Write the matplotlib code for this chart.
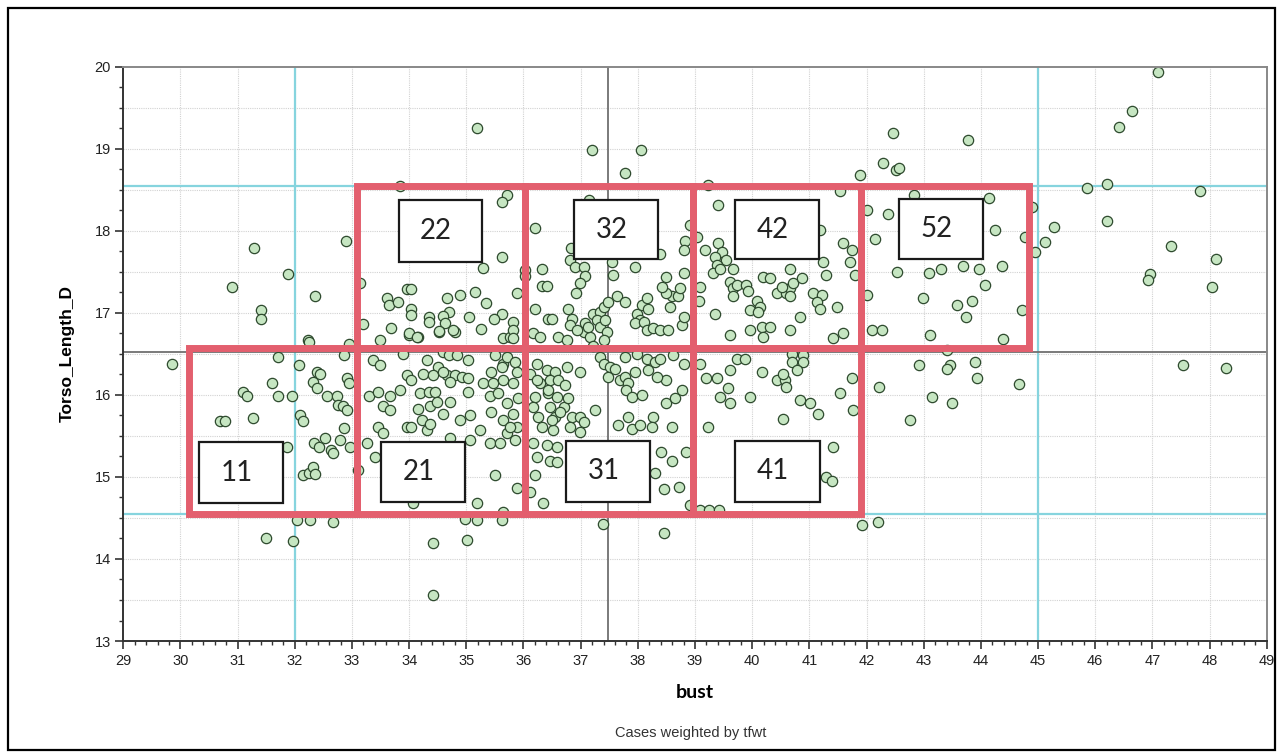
import matplotlib.pyplot as plt
from matplotlib.patches import Rectangle
import numpy as np

# точки (bust, Torso_Length_D), сгруппированы по областям графика
pts_left = [(29.85, 16.38), (31.29, 17.79), (30.90, 17.32), (31.41, 17.04), (31.41, 16.93), (31.88, 17.47),
            (32.35, 17.20), (32.90, 17.87), (32.23, 16.67), (31.49, 14.25), (31.96, 14.22), (32.03, 14.48),
            (32.27, 14.48), (32.67, 14.45)]
pts_11 = [(31.71, 16.46), (31.60, 16.15), (31.09, 16.04), (31.17, 15.99), (31.71, 15.99), (31.95, 15.99),
          (30.69, 15.68), (30.78, 15.68), (31.26, 15.72), (32.08, 16.36), (32.24, 16.65), (32.38, 16.28),
          (32.44, 16.26), (32.32, 16.16), (32.38, 16.08), (32.56, 15.99), (32.73, 15.99), (32.76, 15.88),
          (32.85, 15.86), (32.86, 16.48), (32.91, 16.20), (32.94, 16.15), (32.91, 15.81), (32.09, 15.75),
          (32.15, 15.68), (32.86, 15.60), (32.79, 15.45), (32.52, 15.48), (32.34, 15.41), (32.43, 15.37),
          (32.64, 15.33), (32.67, 15.29), (32.97, 15.37), (31.87, 15.37), (32.15, 15.02), (32.24, 15.05),
          (32.31, 15.12), (32.35, 15.04), (33.11, 15.08)]
pts_21 = [(32.95, 16.62), (33.49, 16.67), (34.00, 16.73), (34.16, 16.71), (34.53, 16.77), (34.80, 16.77),
          (35.65, 16.69), (35.76, 16.71), (33.37, 16.42), (33.49, 16.36), (33.90, 16.50), (34.31, 16.42),
          (34.60, 16.52), (34.69, 16.48), (34.83, 16.48), (35.03, 16.42), (35.50, 16.48), (35.65, 16.38),
          (34.51, 16.34), (34.25, 16.26), (33.96, 16.24), (34.04, 16.18), (34.42, 16.24), (34.66, 16.24),
          (34.80, 16.24), (34.92, 16.22), (35.03, 16.20), (34.60, 16.28), (34.71, 16.16), (35.30, 16.14),
          (35.47, 16.14), (35.44, 16.28), (33.29, 15.99), (33.46, 16.04), (33.66, 15.99), (33.84, 16.06),
          (33.55, 15.87), (33.66, 15.81), (34.19, 16.02), (34.34, 16.04), (34.45, 16.04), (34.16, 15.83),
          (34.36, 15.87), (34.48, 15.91), (34.71, 15.91), (34.60, 15.77), (35.03, 16.04), (35.41, 15.99),
          (35.56, 16.02), (35.44, 15.79), (34.89, 15.69), (35.06, 15.75), (33.96, 15.61), (34.04, 15.61),
          (34.22, 15.69), (34.31, 15.57), (34.36, 15.65), (33.46, 15.61), (33.55, 15.53), (33.26, 15.41),
          (33.40, 15.24), (34.71, 15.47), (35.06, 15.45), (35.24, 15.57), (35.41, 15.41), (35.59, 15.41),
          (35.71, 15.53), (35.88, 15.61), (35.50, 15.02), (35.88, 14.86), (35.18, 14.68), (35.65, 14.57),
          (34.07, 14.68), (35.71, 16.46), (35.85, 16.40), (35.62, 16.34), (35.88, 16.28), (35.65, 16.18),
          (35.82, 16.14), (35.91, 15.96), (35.71, 15.90), (35.82, 15.77), (35.65, 15.69), (35.77, 15.61),
          (35.85, 15.45)]
pts_below = [(34.98, 14.49), (35.18, 14.47), (35.62, 14.47), (34.41, 14.20), (35.02, 14.23), (34.41, 13.56),
             (37.39, 14.43), (38.46, 14.32), (41.92, 14.42), (42.20, 14.45)]
pts_22 = [(33.84, 18.55), (33.14, 17.36), (33.19, 16.86), (33.96, 17.29), (34.04, 17.29), (33.61, 17.18),
          (33.65, 17.09), (33.81, 17.13), (34.03, 17.05), (34.03, 16.97), (33.68, 16.82), (34.35, 16.95),
          (34.35, 16.89), (34.67, 17.18), (34.70, 17.01), (34.60, 16.96), (34.63, 16.87), (34.52, 16.78),
          (34.77, 16.79), (33.99, 16.75), (34.14, 16.71), (34.89, 17.22), (35.71, 18.43), (35.62, 18.35),
          (35.62, 17.68), (35.88, 17.24), (35.62, 16.99), (35.82, 16.89), (35.82, 16.79), (35.82, 16.69),
          (35.15, 17.25), (35.35, 17.12), (35.48, 16.92), (35.25, 16.80), (35.05, 16.95), (35.30, 17.55)]
pts_top = [(35.18, 19.25), (37.20, 18.98), (38.06, 18.98), (37.78, 18.71), (42.28, 18.83), (41.89, 18.68),
           (42.52, 18.74), (39.22, 18.56), (47.09, 19.94), (46.65, 19.46), (46.42, 19.27), (42.47, 19.19),
           (43.78, 19.11), (42.56, 18.76)]
pts_32 = [(36.21, 18.03), (36.83, 17.79), (37.15, 18.37), (36.81, 17.64), (36.90, 17.56), (37.05, 17.56),
          (37.08, 17.45), (36.99, 17.36), (36.92, 17.24), (36.32, 17.53), (36.32, 17.33), (36.41, 17.33),
          (36.03, 17.52), (36.03, 17.45), (36.20, 17.05), (36.43, 16.93), (36.49, 16.93), (36.78, 17.05),
          (36.84, 16.93), (36.81, 16.85), (36.17, 16.75), (36.29, 16.71), (36.61, 16.71), (36.76, 16.67),
          (37.05, 16.77), (37.16, 16.71), (37.22, 16.99), (37.34, 17.01), (37.40, 17.07), (37.48, 17.13),
          (37.28, 16.91), (37.34, 16.83), (37.43, 16.91), (37.46, 16.77), (37.40, 16.67), (37.08, 16.87),
          (37.13, 16.83), (36.93, 16.79), (37.22, 16.59), (37.63, 17.20), (37.78, 17.13), (37.57, 17.46),
          (37.95, 17.56), (37.54, 17.62), (37.98, 16.99), (38.07, 17.09), (38.16, 17.18), (38.18, 17.05),
          (38.04, 16.91), (37.95, 16.87), (38.10, 16.89), (38.16, 16.79), (38.27, 16.81), (38.39, 16.79),
          (38.53, 16.79), (38.77, 16.85), (38.80, 16.95), (38.56, 17.07), (38.59, 17.20), (38.71, 17.20),
          (38.50, 17.24), (38.50, 17.44), (38.43, 17.32), (38.80, 17.48), (38.74, 17.30), (38.83, 17.87),
          (38.91, 18.07), (38.80, 17.76), (38.39, 17.72)]
pts_42 = [(39.41, 18.31), (39.03, 17.93), (39.17, 17.76), (39.41, 17.85), (39.47, 17.74), (39.35, 17.68),
          (39.55, 17.64), (39.38, 17.58), (39.32, 17.48), (39.44, 17.54), (39.67, 17.54), (39.61, 17.38),
          (39.67, 17.30), (39.73, 17.34), (39.90, 17.34), (39.93, 17.26), (40.08, 17.15), (40.14, 17.07),
          (39.96, 17.03), (40.11, 17.01), (39.67, 17.20), (39.35, 16.99), (39.09, 17.32), (39.07, 17.15),
          (39.61, 16.73), (39.96, 16.79), (40.17, 16.83), (40.31, 16.83), (40.19, 16.71), (40.19, 17.44),
          (40.31, 17.42), (40.43, 17.24), (40.60, 17.24), (40.66, 17.30), (40.72, 17.36), (40.52, 17.32),
          (40.66, 17.20), (40.87, 17.42), (40.66, 17.54), (41.07, 17.24), (41.22, 17.22), (41.13, 17.13),
          (41.19, 17.05), (41.48, 17.07), (40.84, 16.95), (40.66, 16.79), (41.42, 16.69), (41.59, 16.75),
          (41.59, 17.85), (41.74, 17.76), (41.71, 17.62), (41.24, 17.62), (41.30, 17.46), (41.80, 17.46),
          (41.54, 18.48), (41.19, 18.01)]
pts_52 = [(42.00, 18.25), (42.38, 18.21), (42.15, 17.90), (42.00, 17.22), (42.53, 17.50), (42.09, 16.79),
          (42.27, 16.79), (42.83, 18.44), (44.14, 18.40), (44.24, 18.01), (44.89, 18.29), (44.77, 17.93),
          (43.10, 17.49), (43.30, 17.53), (43.69, 17.57), (43.97, 17.53), (44.37, 17.57), (44.08, 17.34),
          (42.99, 17.18), (43.58, 17.10), (43.85, 17.15), (43.74, 16.95), (44.72, 17.03), (43.11, 16.73),
          (44.38, 16.68), (43.41, 16.55)]
pts_right = [(45.86, 18.52), (46.21, 18.57), (47.83, 18.48), (44.94, 17.74), (45.12, 17.86), (45.28, 18.05),
             (46.21, 18.12), (47.32, 17.82), (48.11, 17.66), (46.96, 17.47), (46.93, 17.40), (48.04, 17.31),
             (42.92, 16.36), (43.46, 16.36), (43.41, 16.32), (43.90, 16.40), (43.93, 16.21), (44.66, 16.13),
             (43.15, 15.98), (43.50, 15.90), (42.76, 15.69), (47.53, 16.37), (48.28, 16.33), (42.21, 16.09)]
pts_31 = [(36.23, 16.38), (36.41, 16.30), (36.55, 16.28), (36.76, 16.34), (36.99, 16.28), (36.29, 16.14),
          (36.46, 16.18), (36.61, 16.18), (36.73, 16.12), (36.20, 15.98), (36.43, 16.02), (36.46, 15.85),
          (36.70, 15.85), (36.78, 15.96), (36.26, 15.73), (36.55, 15.73), (36.84, 15.73), (36.99, 15.73),
          (36.32, 15.61), (36.52, 15.57), (36.81, 15.61), (36.99, 15.55), (37.25, 15.81), (37.34, 16.46),
          (37.40, 16.38), (37.51, 16.34), (37.48, 16.22), (37.60, 16.32), (37.69, 16.18), (37.78, 16.22),
          (37.83, 16.14), (37.95, 16.28), (37.78, 16.46), (37.98, 16.50), (38.16, 16.44), (38.30, 16.40),
          (38.18, 16.30), (38.39, 16.44), (38.62, 16.48), (38.80, 16.38), (38.50, 16.18), (38.33, 16.22),
          (37.80, 16.06), (37.89, 15.98), (38.07, 16.00), (38.50, 15.90), (38.65, 15.96), (38.77, 16.06),
          (37.66, 15.63), (37.83, 15.73), (37.89, 15.59), (38.04, 15.63), (38.27, 15.73), (38.24, 15.61),
          (38.59, 15.61), (37.05, 15.67), (36.11, 16.26), (36.23, 16.18), (36.17, 15.85), (36.43, 16.06),
          (36.58, 15.98), (36.49, 15.69), (36.64, 15.79), (36.17, 15.41), (36.41, 15.39), (36.58, 15.37),
          (36.23, 15.24), (36.46, 15.20), (36.58, 15.18), (36.20, 15.02), (36.11, 14.82), (36.35, 14.68),
          (38.60, 15.20), (38.30, 15.05), (38.85, 15.30), (38.40, 15.30), (38.72, 14.88), (38.45, 14.85),
          (38.92, 14.66)]
pts_41 = [(39.09, 16.38), (39.20, 16.20), (39.38, 16.20), (39.61, 16.30), (39.73, 16.44), (39.87, 16.44),
          (39.44, 15.98), (39.58, 16.08), (39.61, 15.90), (39.96, 15.98), (40.17, 16.28), (40.43, 16.18),
          (40.57, 16.18), (40.54, 16.26), (40.60, 16.10), (40.69, 16.50), (40.69, 16.40), (40.89, 16.48),
          (40.89, 16.40), (40.78, 16.30), (40.84, 15.94), (41.01, 15.90), (41.16, 15.77), (41.54, 16.02),
          (41.74, 16.20), (41.77, 15.81), (40.54, 15.70), (39.23, 15.61), (41.42, 15.37), (39.08, 14.60),
          (39.25, 14.60), (39.42, 14.60), (41.30, 15.00), (41.40, 14.95)]

# красные прямоугольники: (x0, x1, y0, y1)
cells = [(30.15, 33.08, 14.55, 16.57), (33.08, 36.03, 14.55, 16.57), (36.03, 38.97, 14.55, 16.57),
         (38.97, 41.90, 14.55, 16.57), (33.08, 36.03, 16.57, 18.55), (36.03, 38.97, 16.57, 18.55),
         (38.97, 41.90, 16.57, 18.55), (41.90, 44.85, 16.57, 18.55)]
# подписи ячеек: (текст, x0, x1, y0, y1)
labels = [('11', 30.33, 31.79, 14.68, 15.42), ('21', 33.51, 34.98, 14.69, 15.43),
          ('31', 36.74, 38.22, 14.70, 15.44), ('41', 39.70, 41.19, 14.70, 15.44),
          ('22', 33.82, 35.28, 17.62, 18.37), ('32', 36.88, 38.36, 17.65, 18.38),
          ('42', 39.70, 41.17, 17.65, 18.38), ('52', 42.57, 44.03, 17.66, 18.39)]

cyan_x = [32, 45]
cyan_y = [14.55, 18.55]
mean_x = 37.47
mean_y = 16.52

all_pts = (pts_left + pts_11 + pts_21 + pts_below + pts_22 + pts_top + pts_32 + pts_42 + pts_52
           + pts_right + pts_31 + pts_41)
bust = np.array([p[0] for p in all_pts])
torso = np.array([p[1] for p in all_pts])

fig = plt.figure(figsize=(12.83, 7.56), dpi=100)
ax = fig.add_axes([0.0961, 0.1521, 0.8912, 0.7597])

# сетка
for v in np.arange(30, 49, 1):
    ax.axvline(v, color='#d2d2d2', lw=0.8, ls=(0, (1, 1)), zorder=0)
for v in np.arange(13.5, 20, 0.5):
    ax.axhline(v, color='#d2d2d2', lw=0.8, ls=(0, (1, 1)), zorder=0)

for v in cyan_x:
    ax.axvline(v, color='#86d4de', lw=1.6, zorder=1)
for v in cyan_y:
    ax.axhline(v, color='#86d4de', lw=1.6, zorder=1)
ax.axvline(mean_x, color='#707070', lw=1.3, zorder=1)
ax.axhline(mean_y, color='#707070', lw=1.3, zorder=1)

ax.scatter(bust, torso, s=55, facecolor='#c6e6c2', edgecolor='#2e4a2e', linewidth=0.9, zorder=2)

for x0, x1, y0, y1 in cells:
    ax.add_patch(Rectangle((x0, y0), x1 - x0, y1 - y0, fill=False, edgecolor='#e35f6e',
                           lw=5, joinstyle='miter', zorder=3))
for t, x0, x1, y0, y1 in labels:
    ax.add_patch(Rectangle((x0, y0), x1 - x0, y1 - y0, facecolor='white', edgecolor='#1a1a1a',
                           lw=1.6, zorder=4))
    ax.text((x0 + x1) / 2 - 0.08, (y0 + y1) / 2, t, ha='center', va='center', fontsize=20,
            family='Lato', color='#222222', zorder=5)

ax.set_xlim(29, 49)
ax.set_ylim(13, 20)
ax.set_xticks(np.arange(29, 50, 1))
ax.set_xticks(np.arange(29, 49.01, 0.2), minor=True)
ax.set_yticks(np.arange(13, 20.5, 1))
ax.set_yticks(np.arange(13, 20.01, 0.25), minor=True)
ax.tick_params(which='major', direction='out', length=6, width=1.2, color='#333333',
               labelsize=10.5, pad=3, labelcolor='#222222')
ax.tick_params(which='minor', direction='out', length=3, width=1, color='#333333')
for lab in ax.get_xticklabels() + ax.get_yticklabels():
    lab.set_family('Liberation Sans')

for s in ['left', 'bottom']:
    ax.spines[s].set_color('#333333')
    ax.spines[s].set_linewidth(1.4)
for s in ['top', 'right']:
    ax.spines[s].set_color('#888888')
    ax.spines[s].set_linewidth(1.4)

ax.set_ylabel('Torso_Length_D', fontsize=12.5, fontweight='bold', family='Liberation Sans', labelpad=14)
ax.set_xlabel('bust', fontsize=14, fontweight='bold', family='Lato', labelpad=12)
fig.text(0.538, 0.03, 'Cases weighted by tfwt', ha='center', va='center', fontsize=10.5,
         family='Liberation Sans', color='#333333')

# внешняя рамка
fig.add_artist(Rectangle((0.006, 0.008), 0.988, 0.982, transform=fig.transFigure, fill=False,
                         edgecolor='black', lw=1.6))

fig.savefig('out.png', dpi=100)
